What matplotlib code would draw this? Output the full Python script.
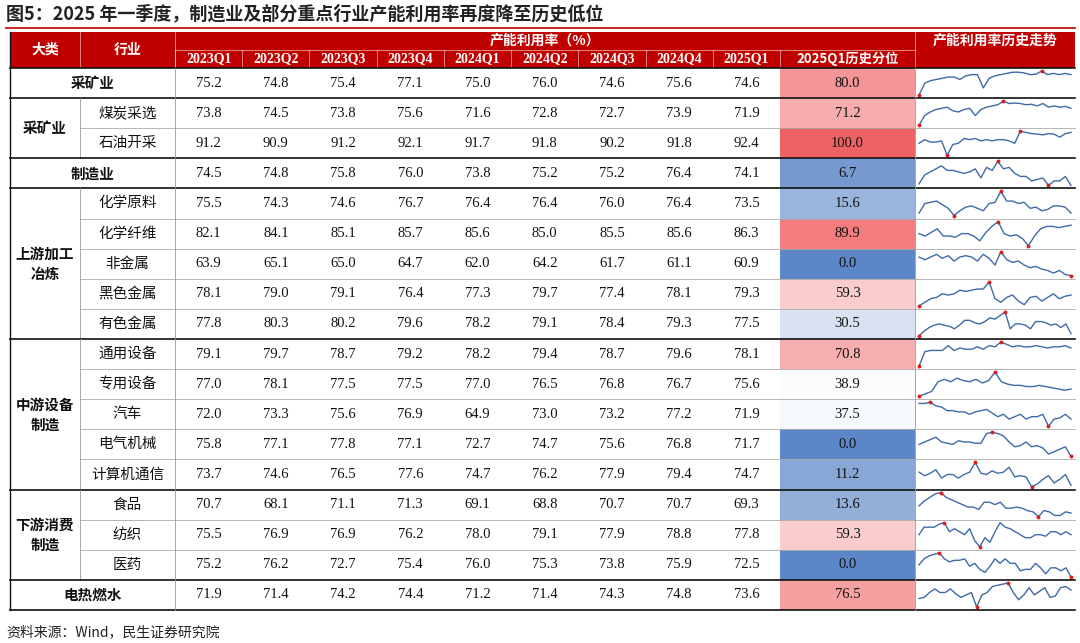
import matplotlib
matplotlib.use("Agg")
import matplotlib.pyplot as plt
from matplotlib.colors import LinearSegmentedColormap, TwoSlopeNorm
from matplotlib.patches import Rectangle

CJK = "Noto Sans CJK SC"
SERIF = "Liberation Serif"

title = "图5：2025 年一季度，制造业及部分重点行业产能利用率再度降至历史低位"
source = "资料来源：Wind，民生证券研究院"
quarters = ["2023Q1","2023Q2","2023Q3","2023Q4","2024Q1","2024Q2","2024Q3","2024Q4","2025Q1"]
industries = ["采矿业","煤炭采选","石油开采","制造业","化学原料","化学纤维","非金属","黑色金属","有色金属",
              "通用设备","专用设备","汽车","电气机械","计算机通信","食品","纺织","医药","电热燃水"]
groups = [("采矿业",0,0),("采矿业",1,2),("制造业",3,3),("上游加工\n冶炼",4,8),
          ("中游设备\n制造",9,13),("下游消费\n制造",14,16),("电热燃水",17,17)]
values = [
 [75.2,74.8,75.4,77.1,75.0,76.0,74.6,75.6,74.6],
 [73.8,74.5,73.8,75.6,71.6,72.8,72.7,73.9,71.9],
 [91.2,90.9,91.2,92.1,91.7,91.8,90.2,91.8,92.4],
 [74.5,74.8,75.8,76.0,73.8,75.2,75.2,76.4,74.1],
 [75.5,74.3,74.6,76.7,76.4,76.4,76.0,76.4,73.5],
 [82.1,84.1,85.1,85.7,85.6,85.0,85.5,85.6,86.3],
 [63.9,65.1,65.0,64.7,62.0,64.2,61.7,61.1,60.9],
 [78.1,79.0,79.1,76.4,77.3,79.7,77.4,78.1,79.3],
 [77.8,80.3,80.2,79.6,78.2,79.1,78.4,79.3,77.5],
 [79.1,79.7,78.7,79.2,78.2,79.4,78.7,79.6,78.1],
 [77.0,78.1,77.5,77.5,77.0,76.5,76.8,76.7,75.6],
 [72.0,73.3,75.6,76.9,64.9,73.0,73.2,77.2,71.9],
 [75.8,77.1,77.8,77.1,72.7,74.7,75.6,76.8,71.7],
 [73.7,74.6,76.5,77.6,74.7,76.2,77.9,79.4,74.7],
 [70.7,68.1,71.1,71.3,69.1,68.8,70.7,70.7,69.3],
 [75.5,76.9,76.9,76.2,78.0,79.1,77.9,78.8,77.8],
 [75.2,76.2,72.7,75.4,76.0,75.3,73.8,75.9,72.5],
 [71.9,71.4,74.2,74.4,71.2,71.4,74.3,74.8,73.6],
]
percentile = [80.0,71.2,100.0,6.7,15.6,89.9,0.0,59.3,30.5,70.8,38.9,37.5,0.0,11.2,13.6,59.3,0.0,76.5]
trends = [
 [0,5,6,6.5,7,7.5,7.5,6.5,8,8.5,8.5,3,7,8,8.5,9,9.5,9.5,9.2,8.5,8.7,10,8.5,9,8.5,9,8.5],
 [0,4,5.5,6.5,7,7.5,6,5.5,6.5,7,4,6.5,7.5,8,8.5,10,9,9.2,9,8.5,8.7,8,9,7.5,8,7.5,7.8,7],
 [5,6.5,5.5,5.5,6,0,4.5,5,7,6.5,7,6,6.5,6,6.5,6.5,6,5,10,9.5,9,8.8,8.5,9,8.8,7.5,9,9.5],
 [1,4,5,6,7,5.5,5.5,5,4.5,5,6,3,6.5,5.5,8.5,6,6.5,4.5,3.5,3.5,2,2.5,3,0.5,2,2,3.5,0.5],
 [1,5,5.5,6,4.5,3,0,2,3.5,4,3,2,5,5.5,10,6,6,5,5.5,3,3.5,2,2.5,4,4,3.5,1],
 [5,4,5.5,7,4,4,3.5,5,5,4,2,5.5,8,10,5,4,4.5,3,0,4,7,8,8,7.5,8,8.5],
 [7,6,7,8,6.5,7.5,5.5,7,7.5,7,5.5,8,6.5,4,9,6,5,5.5,4,3,3.5,2.5,2,1,2,0.5,0],
 [0,1.5,3,3.5,5,4.5,5,6.5,6,6.5,7,7,10,3,1.5,3.5,4.5,2,0.5,3.5,4,2,3.5,5,3,4,4.5],
 [0,2,3.5,4.5,5,4.5,4,3,4.5,6.5,6.5,5.5,5,6,7.5,7,8.5,10,3,5,5,4.5,3,6,6,5.5,4.5,5,3.5,5,1],
 [0,6,6.5,6.5,6.5,8.5,6.5,7.5,7,7,8,7,8.5,8,10,9,8,8.5,8,8,8.5,8,7.5,8,8,8.5,7.5],
 [0,1,2,6,7,6,7.5,6.5,6,7,5.5,6.5,10,6,5,4.5,4.5,4,4,4.5,4,3.5,3,2.5,3],
 [9.5,9.5,10,8.5,8,6.5,6.5,6,6,5,6,6.5,7,5.5,4,5,3,4,5,3,4,4,5,0,3,3.5,5,3],
 [5,6,7,8,6,5.5,5,6.5,6,6,5.5,5.5,9.5,10,9.5,8.5,6,4,4.5,6,4,4.5,3.5,1,2,3,4,0],
 [6,4.5,5.5,7,3.5,5,5,3.5,5,6,10,5.5,5,6.5,5.5,6,8,4,4.5,4,0,1,3,4.5,1.5,3,5,0.5],
 [4.5,6.5,8,9.5,10,8,7,6,5,4,4,3,6,6,5,6,3.5,3.5,4,3.5,2.5,2,0,2.5,2,0.5,0.5,2,1.5],
 [4,6.5,6.5,6.5,7.5,8,5,6,5,4,6,2,0,3,1.5,5,8,6.5,6,5,4,3,3,4,4,3.5,5,5,4,5,4],
 [4,6,7,7.5,8,6,5,5.5,5.5,6,3.5,4.5,2.5,1.5,3.5,6,4.5,6,4.5,4.5,2,2.5,2.5,4.5,3,1,3,3,2,3,0],
 [3.5,4,6,7.5,6,6,7.5,5.5,4,5,6,0,5,6,8.5,9,9.5,10,6,3,5,8,5,6.5,8,4,4.5,8,8.5,7],
]

W, H = 1080, 643
fig = plt.figure(figsize=(W/100, H/100), dpi=100)
ax = fig.add_axes([0, 0, 1, 1])
ax.set_xlim(0, W); ax.set_ylim(H, 0); ax.axis("off")

RED = "#C00000"
x0, xg, xi, xd, xp, xt, x1 = 10, 80, 175, 175, 780, 915, 1075
qw = (xp - xd) / len(quarters)
yh0, yh1, yh2 = 32, 50, 68
yend = 610
rh = (yend - yh2) / len(industries)

ax.text(6, 14, title, fontfamily=CJK, fontsize=13, fontweight="bold", va="center", ha="left", color="#222222")
ax.plot([6, 1075], [28, 28], color=RED, lw=1.2)

ax.add_patch(Rectangle((x0, yh0), x1 - x0, yh2 - yh0, color=RED, lw=0))
hd = dict(color="white", fontweight="bold", va="center", ha="center")
ax.text((x0+xg)/2, (yh0+yh2)/2, "大类", fontfamily=CJK, fontsize=10, **hd)
ax.text((xg+xi)/2, (yh0+yh2)/2, "行业", fontfamily=CJK, fontsize=10, **hd)
ax.text((xd+xt)/2, (yh0+yh1)/2, "产能利用率（%）", fontfamily=CJK, fontsize=10, **hd)
ax.text((xt+x1)/2, (yh0+yh1)/2 , "产能利用率历史走势", fontfamily=CJK, fontsize=10, **hd)
for i, q in enumerate(quarters):
    ax.text(xd + qw*(i+0.5), (yh1+yh2)/2, q, fontfamily=SERIF, fontsize=10, **hd)
ax.text((xp+xt)/2, (yh1+yh2)/2, "2025Q1历史分位", fontfamily=CJK, fontsize=9.5, **hd)
for xx in [xg, xi, xt]:
    ax.plot([xx, xx], [yh0, yh2], color="white", lw=0.6, alpha=0.6)
for i in range(len(quarters) + 1):
    xx = xd + qw*i
    ax.plot([xx, xx], [yh1, yh2], color="white", lw=0.6, alpha=0.6)
ax.plot([xd, xt], [yh1, yh1], color="white", lw=0.6, alpha=0.6)

cmap = LinearSegmentedColormap.from_list("c", ["#5B86C7", "#FFFFFF", "#EF6264"])
norm = TwoSlopeNorm(vmin=0, vcenter=40, vmax=100)

for r, name in enumerate(industries):
    yt = yh2 + rh*r
    yc = yt + rh/2
    ax.add_patch(Rectangle((xp, yt), xt - xp, rh, color=cmap(norm(percentile[r])), lw=0))
    ax.text((xp+xt)/2, yc, f"{percentile[r]:.1f}", fontfamily=SERIF, fontsize=10.5, ha="center", va="center", color="#111111")
    for i, v in enumerate(values[r]):
        ax.text(xd + qw*(i+0.5), yc, f"{v:.1f}", fontfamily=SERIF, fontsize=10.5, ha="center", va="center", color="#111111")
    s = trends[r]
    n = len(s)
    lo, hi = min(s), max(s)
    px = [xt + 4 + (x1 - xt - 8) * k / (n - 1) for k in range(n)]
    py = [yt + rh - 3 - (rh - 6) * (v - lo) / (hi - lo) for v in s]
    ax.plot(px, py, color="#3F6AA8", lw=1.0)
    for k in (s.index(lo), s.index(hi)):
        ax.plot(px[k], py[k], "o", color="#D62020", ms=2.8, mec="none")

single = {0, 3, 17}
for g, a, b in groups:
    yt = yh2 + rh*a; yb = yh2 + rh*(b+1)
    if a == b and a in single:
        ax.text((x0+xi)/2, (yt+yb)/2, g, fontfamily=CJK, fontsize=10.5, fontweight="bold", ha="center", va="center", color="#111111")
    else:
        ax.text((x0+xg)/2, (yt+yb)/2, g, fontfamily=CJK, fontsize=10.5, fontweight="bold", ha="center", va="center", color="#111111", linespacing=1.3)
        for r in range(a, b+1):
            ax.text((xg+xi)/2, yh2 + rh*(r+0.5), industries[r], fontfamily=CJK, fontsize=10.5, ha="center", va="center", color="#111111")
        ax.plot([xg, xg], [yt, yb], color="#999999", lw=0.6)
        for r in range(a+1, b+1):
            ax.plot([xg, x1], [yh2 + rh*r]*2, color="#AAAAAA", lw=0.6)
    ax.plot([x0, x1], [yb, yb], color="#111111", lw=1.2)
ax.plot([x0, x1], [yh2, yh2], color="#111111", lw=1.2)
ax.plot([xi, xi], [yh2, yend], color="#999999", lw=0.6)
ax.plot([xt, xt], [yh2, yend], color="#999999", lw=0.6)
ax.plot([x0, x0], [yh0, yend], color="#111111", lw=1.0)

ax.text(6, 632, source, fontfamily=CJK, fontsize=10, ha="left", va="center", color="#222222")
fig.savefig("out.png", dpi=100)
